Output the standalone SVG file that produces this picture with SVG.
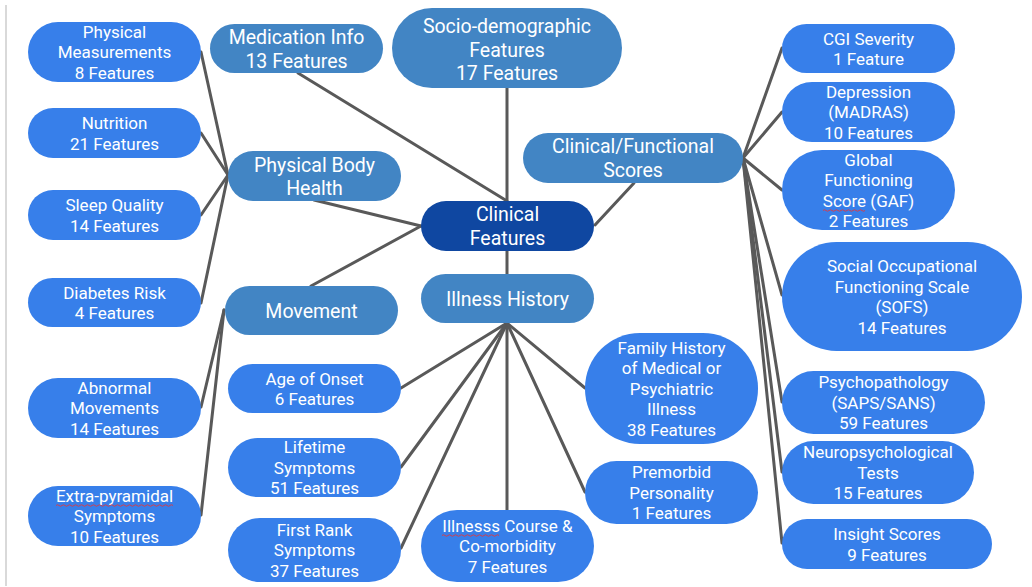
<svg xmlns="http://www.w3.org/2000/svg" width="1032" height="587" viewBox="0 0 1032 587">
  <style>
    .leaf rect { fill: #377fea; }
    .cat rect { fill: #4285c4; }
    .hub rect { fill: #0f47a1; }
    text { font-family: Roboto, "Liberation Sans", Arial, sans-serif; fill: #ffffff; text-anchor: middle; }
    .leaf text { font-size: 17px; }
    .cat text, .hub text { font-size: 19.5px; }
    #connectors line { stroke: #595959; stroke-width: 3; stroke-linecap: round; }
    .squiggle { fill: none; stroke: #e0393e; stroke-width: 0.9; }
  </style>

  <rect width="1032" height="587" fill="#ffffff"/>
  <!-- left margin rule -->
  <line x1="6" y1="5" x2="6" y2="586" stroke="#d9d9d9" stroke-width="2"/>

  <g id="connectors">
    <!-- Physical Body Health branch -->
    <line x1="228" y1="175" x2="201" y2="52"/>
    <line x1="228" y1="175" x2="201" y2="133"/>
    <line x1="228" y1="175" x2="201" y2="215"/>
    <line x1="228" y1="175" x2="201" y2="303"/>
    <!-- Movement branch -->
    <line x1="224" y1="310" x2="201" y2="407"/>
    <line x1="224" y1="310" x2="201" y2="515"/>
    <!-- into Clinical Features -->
    <line x1="298" y1="73" x2="507" y2="201"/>
    <line x1="507" y1="88" x2="507" y2="201"/>
    <line x1="314" y1="200" x2="421" y2="226"/>
    <line x1="311" y1="286" x2="421" y2="226"/>
    <line x1="634" y1="183" x2="595" y2="225"/>
    <line x1="507" y1="251" x2="507" y2="274"/>
    <!-- Clinical/Functional Scores branch -->
    <line x1="743" y1="158" x2="782" y2="48"/>
    <line x1="743" y1="158" x2="782" y2="112"/>
    <line x1="743" y1="158" x2="782" y2="190"/>
    <line x1="743" y1="158" x2="782" y2="295"/>
    <line x1="743" y1="158" x2="782" y2="402"/>
    <line x1="743" y1="158" x2="782" y2="472"/>
    <line x1="743" y1="158" x2="782" y2="543"/>
    <!-- Illness History branch -->
    <line x1="507" y1="323" x2="401" y2="388"/>
    <line x1="507" y1="323" x2="401" y2="467"/>
    <line x1="507" y1="323" x2="401" y2="548"/>
    <line x1="507" y1="323" x2="507" y2="510"/>
    <line x1="507" y1="323" x2="585" y2="388"/>
    <line x1="507" y1="323" x2="585" y2="492"/>
  </g>

  <!-- central node -->
  <g id="clinical-features" class="hub">
    <rect x="421" y="201" width="173" height="50" rx="25"/>
    <text x="507.5" y="221">Clinical</text>
    <text x="507.5" y="245">Features</text>
  </g>

  <!-- category nodes -->
  <g id="medication-info" class="cat">
    <rect x="210" y="24" width="173" height="49" rx="24.5"/>
    <text x="296.5" y="44">Medication Info</text>
    <text x="296.5" y="68">13 Features</text>
  </g>
  <g id="socio-demographic" class="cat">
    <rect x="392" y="8" width="230" height="80" rx="40"/>
    <text x="507" y="33">Socio-demographic</text>
    <text x="507" y="56.5">Features</text>
    <text x="507" y="80">17 Features</text>
  </g>
  <g id="physical-body-health" class="cat">
    <rect x="228" y="151" width="173" height="50" rx="25"/>
    <text x="314.5" y="171.5">Physical Body</text>
    <text x="314.5" y="195">Health</text>
  </g>
  <g id="movement" class="cat">
    <rect x="225" y="286" width="173" height="49" rx="24.5"/>
    <text x="311.5" y="317.5">Movement</text>
  </g>
  <g id="illness-history" class="cat">
    <rect x="421" y="274" width="173" height="49" rx="24.5"/>
    <text x="507.5" y="305.5">Illness History</text>
  </g>
  <g id="clinical-functional-scores" class="cat">
    <rect x="523" y="133" width="220" height="50" rx="25"/>
    <text x="633" y="153">Clinical/Functional</text>
    <text x="633" y="177">Scores</text>
  </g>

  <!-- Physical Body Health leaves -->
  <g id="physical-measurements" class="leaf">
    <rect x="28" y="22" width="173" height="60" rx="30"/>
    <text x="114.5" y="37.5">Physical</text>
    <text x="114.5" y="58">Measurements</text>
    <text x="114.5" y="78.5">8 Features</text>
  </g>
  <g id="nutrition" class="leaf">
    <rect x="28" y="108" width="173" height="50" rx="25"/>
    <text x="114.5" y="129">Nutrition</text>
    <text x="114.5" y="149.5">21 Features</text>
  </g>
  <g id="sleep-quality" class="leaf">
    <rect x="28" y="190" width="173" height="50" rx="25"/>
    <text x="114.5" y="211">Sleep Quality</text>
    <text x="114.5" y="231.5">14 Features</text>
  </g>
  <g id="diabetes-risk" class="leaf">
    <rect x="28" y="278" width="173" height="49" rx="24.5"/>
    <text x="114.5" y="298.5">Diabetes Risk</text>
    <text x="114.5" y="319">4 Features</text>
  </g>

  <!-- Movement leaves -->
  <g id="abnormal-movements" class="leaf">
    <rect x="28" y="378" width="173" height="60" rx="30"/>
    <text x="114.5" y="393.5">Abnormal</text>
    <text x="114.5" y="414">Movements</text>
    <text x="114.5" y="434.5">14 Features</text>
  </g>
  <g id="extra-pyramidal-symptoms" class="leaf">
    <rect x="28" y="486" width="173" height="60" rx="30"/>
    <text x="114.5" y="501.5">Extra-pyramidal</text>
    <text x="114.5" y="522">Symptoms</text>
    <text x="114.5" y="542.5">10 Features</text>
    <path class="squiggle" d="M56 505.5 q1.5 -1.5 3 0 t3 0 t3 0 t3 0 t3 0 t3 0 t3 0 t3 0 t3 0 t3 0 t3 0 t3 0 t3 0 t3 0 t3 0 t3 0 t3 0 t3 0 t3 0 t3 0 t3 0 t3 0 t3 0 t3 0 t3 0 t3 0 t3 0 t3 0 t3 0 t3 0 t3 0 t3 0 t3 0 t3 0 t3 0 t3 0 t3 0 t3 0 t3 0"/>
  </g>

  <!-- Illness History leaves -->
  <g id="age-of-onset" class="leaf">
    <rect x="228" y="364" width="173" height="49" rx="24.5"/>
    <text x="314.5" y="384.5">Age of Onset</text>
    <text x="314.5" y="405">6 Features</text>
  </g>
  <g id="lifetime-symptoms" class="leaf">
    <rect x="228" y="438" width="173" height="59" rx="29.5"/>
    <text x="314.5" y="453">Lifetime</text>
    <text x="314.5" y="473.5">Symptoms</text>
    <text x="314.5" y="494">51 Features</text>
  </g>
  <g id="first-rank-symptoms" class="leaf">
    <rect x="228" y="518" width="173" height="64" rx="32"/>
    <text x="314.5" y="535.5">First Rank</text>
    <text x="314.5" y="556">Symptoms</text>
    <text x="314.5" y="576.5">37 Features</text>
  </g>
  <g id="illness-course-comorbidity" class="leaf">
    <rect x="421" y="510" width="173" height="72" rx="36"/>
    <text x="507.5" y="531.5">Illnesss Course &amp;</text>
    <text x="507.5" y="552">Co-morbidity</text>
    <text x="507.5" y="572.5">7 Features</text>
    <path class="squiggle" d="M442 535.5 q1.5 -1.5 3 0 t3 0 t3 0 t3 0 t3 0 t3 0 t3 0 t3 0 t3 0 t3 0 t3 0 t3 0 t3 0 t3 0 t3 0 t3 0 t3 0 t3 0 t3 0"/>
  </g>
  <g id="family-history" class="leaf">
    <rect x="585" y="333" width="173" height="111" rx="55"/>
    <text x="671.5" y="353.5">Family History</text>
    <text x="671.5" y="374">of Medical or</text>
    <text x="671.5" y="394.5">Psychiatric</text>
    <text x="671.5" y="415">Illness</text>
    <text x="671.5" y="435.5">38 Features</text>
  </g>
  <g id="premorbid-personality" class="leaf">
    <rect x="585" y="461" width="173" height="63" rx="31.5"/>
    <text x="671.5" y="478">Premorbid</text>
    <text x="671.5" y="498.5">Personality</text>
    <text x="671.5" y="519">1 Features</text>
  </g>

  <!-- Clinical/Functional Scores leaves -->
  <g id="cgi-severity" class="leaf">
    <rect x="782" y="24" width="173" height="49" rx="24.5"/>
    <text x="868.5" y="44.5">CGI Severity</text>
    <text x="868.5" y="65">1 Feature</text>
  </g>
  <g id="depression-madras" class="leaf">
    <rect x="782" y="82" width="173" height="60" rx="30"/>
    <text x="868.5" y="97.5">Depression</text>
    <text x="868.5" y="118">(MADRAS)</text>
    <text x="868.5" y="138.5">10 Features</text>
  </g>
  <g id="global-functioning-score" class="leaf">
    <rect x="782" y="150" width="173" height="80" rx="40"/>
    <text x="868.5" y="165.5">Global</text>
    <text x="868.5" y="186">Functioning</text>
    <text x="868.5" y="206.5">Score (GAF)</text>
    <text x="868.5" y="227">2 Features</text>
    <path class="squiggle" d="M823 210.5 q1.5 -1.5 3 0 t3 0 t3 0 t3 0 t3 0 t3 0 t3 0 t3 0 t3 0 t3 0 t3 0 t3 0 t3 0 t3 0"/>
  </g>
  <g id="social-occupational-functioning" class="leaf">
    <rect x="782" y="242" width="240" height="109" rx="54.5"/>
    <text x="902" y="272">Social Occupational</text>
    <text x="902" y="292.5">Functioning Scale</text>
    <text x="902" y="313">(SOFS)</text>
    <text x="902" y="333.5">14 Features</text>
  </g>
  <g id="psychopathology" class="leaf">
    <rect x="782" y="371" width="203" height="63" rx="31.5"/>
    <text x="883.5" y="388">Psychopathology</text>
    <text x="883.5" y="408.5">(SAPS/SANS)</text>
    <text x="883.5" y="429">59 Features</text>
  </g>
  <g id="neuropsychological-tests" class="leaf">
    <rect x="782" y="441" width="192" height="63" rx="31.5"/>
    <text x="878" y="458">Neuropsychological</text>
    <text x="878" y="478.5">Tests</text>
    <text x="878" y="499">15 Features</text>
  </g>
  <g id="insight-scores" class="leaf">
    <rect x="782" y="519" width="210" height="50" rx="25"/>
    <text x="887" y="540">Insight Scores</text>
    <text x="887" y="560.5">9 Features</text>
  </g>
</svg>
